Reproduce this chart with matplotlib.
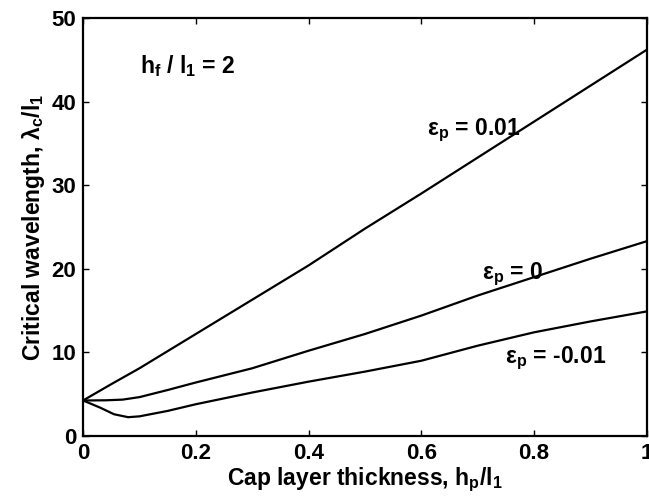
import matplotlib
matplotlib.use("Agg")
import matplotlib.pyplot as plt
import numpy as np

# Data
x_pos = [0, 0.05, 0.1, 0.2, 0.3, 0.4, 0.5, 0.6, 0.7, 0.8, 0.9, 1.0]
y_pos = [4.25, 6.2, 8.1, 12.2, 16.3, 20.4, 24.8, 29.0, 33.3, 37.6, 41.9, 46.2]

x_zero = [0, 0.04, 0.07, 0.1, 0.15, 0.2, 0.3, 0.4, 0.5, 0.6, 0.7, 0.8, 0.9, 1.0]
y_zero = [4.25, 4.27, 4.35, 4.65, 5.5, 6.4, 8.1, 10.2, 12.2, 14.4, 16.8, 19.0, 21.2, 23.3]

x_neg = [0, 0.03, 0.055, 0.08, 0.1, 0.15, 0.2, 0.3, 0.4, 0.5, 0.6, 0.7, 0.8, 0.9, 1.0]
y_neg = [4.25, 3.4, 2.6, 2.25, 2.35, 3.0, 3.8, 5.2, 6.5, 7.7, 9.0, 10.8, 12.4, 13.7, 14.9]

x_ticks = [0, 0.2, 0.4, 0.6, 0.8, 1]
x_ticklabels = ["0", "0.2", "0.4", "0.6", "0.8", "1"]
y_ticks = [0, 10, 20, 30, 40, 50]

plt.rcParams['font.family'] = ['Liberation Sans', 'DejaVu Sans']
plt.rcParams['font.weight'] = 'bold'
plt.rcParams['mathtext.fontset'] = 'custom'
plt.rcParams['mathtext.rm'] = 'Liberation Sans:bold'
plt.rcParams['mathtext.it'] = 'Liberation Sans:bold'
plt.rcParams['mathtext.bf'] = 'Liberation Sans:bold'
plt.rcParams['mathtext.default'] = 'rm'

fig = plt.figure(figsize=(6.49, 5.0), dpi=100)
ax = fig.add_axes([0.128, 0.128, 0.8685, 0.836])

lw = 1.6
ax.plot(x_pos, y_pos, color='black', lw=lw)
ax.plot(x_zero, y_zero, color='black', lw=lw)
ax.plot(x_neg, y_neg, color='black', lw=lw)

ax.set_xlim(0, 1)
ax.set_ylim(0, 50)
ax.set_xticks(x_ticks)
ax.set_xticklabels(x_ticklabels)
ax.set_yticks(y_ticks)
ax.tick_params(direction='in', length=4, width=1, top=True, right=True,
               labelsize=16, pad=5)
for lab in ax.get_xticklabels() + ax.get_yticklabels():
    lab.set_fontweight('bold')
for sp in ax.spines.values():
    sp.set_linewidth(1.6)

ax.set_xlabel(r'Cap layer thickness, h$_p$/l$_1$', fontsize=16.5, fontweight='bold', labelpad=1)
ax.set_ylabel(r'Critical wavelength, $\lambda_c$/l$_1$', fontsize=16.5, fontweight='bold', labelpad=3)

fs = 16.5
ax.text(0.101, 44.3, r'h$_f$ / l$_1$ = 2', fontsize=fs, fontweight='bold', va='center', ha='left')
ax.text(0.693, 36.6, r'$\epsilon_p$ = 0.01', fontsize=fs, fontweight='bold', va='center', ha='center')
ax.text(0.762, 19.4, r'$\epsilon_p$ = 0', fontsize=fs, fontweight='bold', va='center', ha='center')
ax.text(0.838, 9.3, r'$\epsilon_p$ = -0.01', fontsize=fs, fontweight='bold', va='center', ha='center')

fig.savefig('out.png', dpi=100)
